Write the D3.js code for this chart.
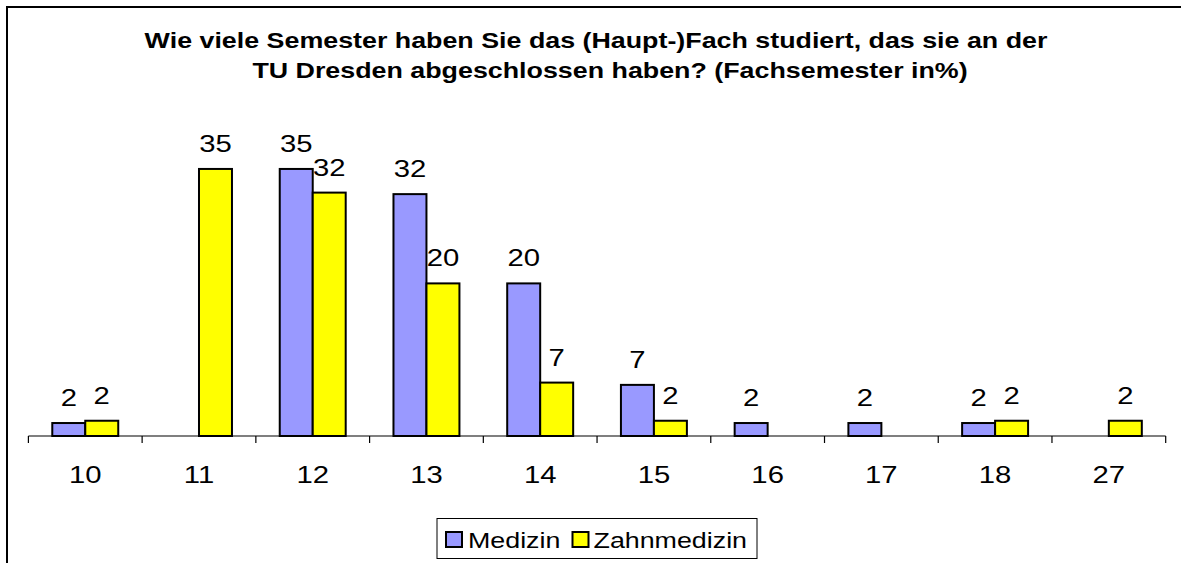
<!DOCTYPE html>
<html>
<head>
<meta charset="utf-8">
<script src="https://cdn.jsdelivr.net/npm/d3@7"></script>
<style>
  html, body { margin: 0; padding: 0; background: #fff; }
  svg { display: block; font-family: "Liberation Sans", Arial, sans-serif; }
</style>
</head>
<body>
<svg id="chart" width="1181" height="563"></svg>
<script>
const categories = ["10", "11", "12", "13", "14", "15", "16", "17", "18", "27"];
const seriesNames = ["Medizin", "Zahnmedizin"];
const medizin = [1.7, null, 35, 31.7, 20, 6.7, 1.7, 1.7, 1.7, null];
const zahnmedizin = [2, 35, 31.9, 20, 7, 2, null, null, 2, 2];
const colors = ["#9999FF", "#FFFF00"];
const titleLines = [
  "Wie viele Semester haben Sie das (Haupt-)Fach studiert, das sie an der",
  "TU Dresden abgeschlossen haben? (Fachsemester in%)"
];

const SX = 1.22; // horizontal text stretch seen in the reference
const svg = d3.select("#chart");

// outer frame
svg.append("rect")
  .attr("x", 7).attr("y", 7).attr("width", 1300).attr("height", 700)
  .attr("fill", "none").attr("stroke", "#000").attr("stroke-width", 2);

// title
[[596, 48], [610, 78]].forEach((p, i) => {
  svg.append("text")
    .attr("transform", `translate(${p[0]},${p[1]}) scale(${SX},1)`)
    .attr("text-anchor", "middle")
    .attr("font-weight", "bold").attr("font-size", 22)
    .text(titleLines[i]);
});

const x0 = d3.scaleBand().domain(categories).range([28.4, 1165.7]).padding(0);
const bw = x0.bandwidth();
const x1 = d3.scaleBand().domain(seriesNames).range([bw * 0.21, bw * 0.79]).padding(0);
const y = d3.scaleLinear().domain([0, 40]).range([436, 130.8]);

const data = categories.map((c, i) => ({
  cat: c,
  values: [
    { name: seriesNames[0], v: medizin[i], color: colors[0] },
    { name: seriesNames[1], v: zahnmedizin[i], color: colors[1] }
  ]
}));

const groups = svg.append("g").selectAll("g")
  .data(data).join("g")
  .attr("transform", d => `translate(${x0(d.cat)},0)`);

const bars = groups.selectAll("g.bar")
  .data(d => d.values.filter(v => v.v != null))
  .join("g").attr("class", "bar");

bars.append("rect")
  .attr("x", d => x1(d.name))
  .attr("y", d => y(d.v))
  .attr("width", x1.bandwidth())
  .attr("height", d => y(0) - y(d.v))
  .attr("fill", d => d.color)
  .attr("stroke", "#000")
  .attr("stroke-width", 2);

bars.append("text")
  .attr("transform", d => `translate(${x1(d.name) + x1.bandwidth() / 2},${y(d.v) - 17}) scale(${SX},1)`)
  .attr("text-anchor", "middle")
  .attr("font-size", 24)
  .text(d => Math.round(d.v));

// x axis
const axis = d3.axisBottom(x0).tickSize(0).tickPadding(0);
const gx = svg.append("g").attr("transform", `translate(0,${y(0)})`).call(axis);
gx.select(".domain").attr("stroke", "#000").attr("stroke-width", 1.2)
  .attr("d", `M${x0.range()[0]},0H${x0.range()[1]}`);
gx.selectAll(".tick text")
  .attr("font-size", 24)
  .attr("font-family", "Liberation Sans, Arial, sans-serif")
  .attr("fill", "#000")
  .attr("dy", 0).attr("y", 0)
  .attr("transform", `translate(0,47) scale(${SX},1)`);
// tick marks between categories
const bounds = categories.map(c => x0(c)).concat([x0.range()[1]]);
svg.append("g").selectAll("line").data(bounds).join("line")
  .attr("x1", d => d).attr("x2", d => d)
  .attr("y1", y(0)).attr("y2", y(0) + 7)
  .attr("stroke", "#000").attr("stroke-width", 1.2);

// legend
const lg = svg.append("g");
lg.append("rect").attr("x", 437).attr("y", 518.5).attr("width", 320).attr("height", 40)
  .attr("fill", "#fff").attr("stroke", "#000").attr("stroke-width", 1);
const legendItems = [
  { name: seriesNames[0], color: colors[0], sx: 446, tx: 468 },
  { name: seriesNames[1], color: colors[1], sx: 572.5, tx: 593.5 }
];
legendItems.forEach(it => {
  lg.append("rect").attr("x", it.sx).attr("y", 532).attr("width", 16).attr("height", 15)
    .attr("fill", it.color).attr("stroke", "#000").attr("stroke-width", 2);
  lg.append("text")
    .attr("transform", `translate(${it.tx},547.5) scale(${SX},1)`)
    .attr("font-size", 22).text(it.name);
});
</script>
</body>
</html>
